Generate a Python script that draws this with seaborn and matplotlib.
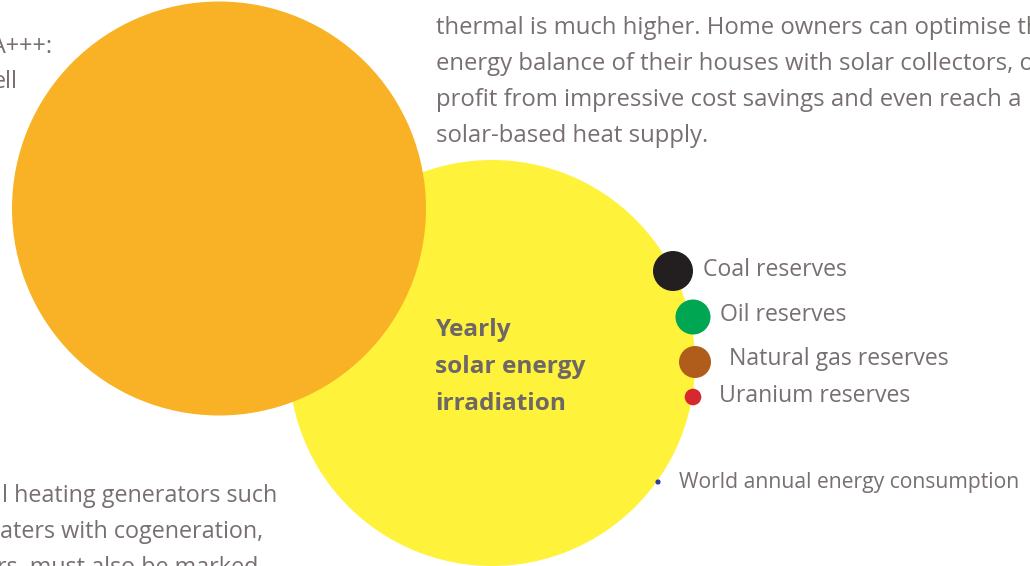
import numpy as np
import pandas as pd
import matplotlib
import matplotlib.pyplot as plt
import seaborn as sns

matplotlib.use('Agg')

# energy sources shown as circles (radius in px of the page)
sources = ["Yearly solar energy irradiation", "Orange disc", "Coal reserves", "Oil reserves",
           "Natural gas reserves", "Uranium reserves", "World annual energy consumption"]
radius = [203, 207, 20, 17.5, 16, 8.3, 2.6]
colors = ["#fff23a", "#f9b226", "#231f20", "#00a651", "#b05c1b", "#d7282f", "#2e3f95"]

# layout of the page crop
pos_x = [492, 219, 673, 693, 695, 693, 658]
pos_y = [363, 208.5, 271, 317, 362, 397, 482]

label_x = [703, 720, 729, 719, 679]
label_base = [276, 321, 365, 402, 488]

para_lines = ["thermal is much higher. Home owners can optimise the",
              "energy balance of their houses with solar collectors, or",
              "profit from impressive cost savings and even reach a",
              "solar-based heat supply."]
left_lines = ["l heating generators such", "aters with cogeneration,", "rs, must also be marked"]
left_ends = [277, 263, 258]
top_left = ["A+++:", "ell"]

W, H = 1030, 566
sns.set_theme(style="white")
plt.rcParams['font.family'] = ['Open Sans', 'DejaVu Sans']
grey = "#776f70"

fig = plt.figure(figsize=(W / 100, H / 100), dpi=100)
ax = fig.add_axes([0, 0, 1, 1])

df = pd.DataFrame({"x": pos_x, "y": pos_y, "src": sources})
# marker area in pt^2 from radius in px (1 px = 0.72 pt at 100 dpi)
sizes = {s: (2 * r * 0.72) ** 2 for s, r in zip(sources, radius)}
sns.scatterplot(data=df, x="x", y="y", hue="src", size="src",
                palette=dict(zip(sources, colors)), sizes=sizes,
                linewidth=0, legend=False, ax=ax)
ax.set_xlim(0, W)
ax.set_ylim(H, 0)
ax.set_axis_off()

fs = 16.8
for i, s in enumerate(sources[2:]):
    ax.text(label_x[i], label_base[i], s, fontsize=16.6 if i < 4 else 15.2,
            color=grey, va='baseline', ha='left')

for i, line in enumerate(para_lines):
    ax.text(436, 34 + 36 * i, line, fontsize=17.2, color=grey, va='baseline')

for i, line in enumerate(["Yearly", "solar energy", "irradiation"]):
    ax.text(435, 336 + 37 * i, line, fontsize=17.6, color="#6d6767",
            fontweight='bold', va='baseline')

for i, line in enumerate(left_lines):
    ax.text(left_ends[i], 502 + 36 * i, line, fontsize=fs, color=grey,
            va='baseline', ha='right')

ax.text(52, 53, top_left[0], fontsize=fs, color=grey, va='baseline', ha='right')
ax.text(18, 88, top_left[1], fontsize=fs, color=grey, va='baseline', ha='right')

fig.savefig("out.png", dpi=100, facecolor="white")
